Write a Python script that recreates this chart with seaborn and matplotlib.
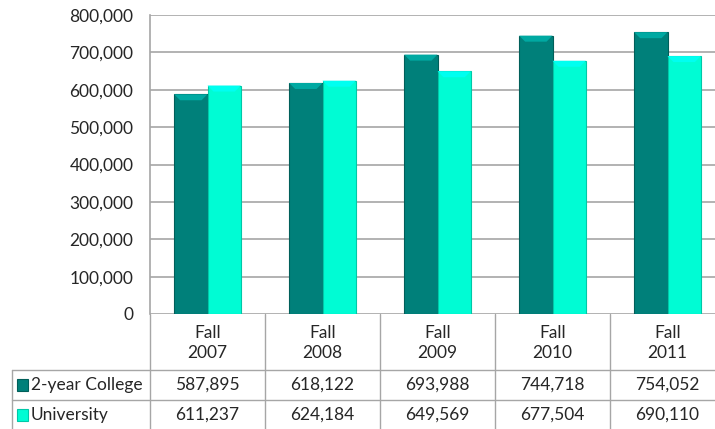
import matplotlib
matplotlib.use("Agg")
import matplotlib.pyplot as plt
import matplotlib.transforms as mtransforms
from matplotlib.lines import Line2D
from matplotlib.patches import Rectangle, Polygon
import seaborn as sns
import pandas as pd

# data
terms = ["Fall\n2007", "Fall\n2008", "Fall\n2009", "Fall\n2010", "Fall\n2011"]
series_names = ["2-year College", "University"]
college = [587895, 618122, 693988, 744718, 754052]
university = [611237, 624184, 649569, 677504, 690110]
yticks = [0, 100000, 200000, 300000, 400000, 500000, 600000, 700000, 800000]

colors = ["#00807A", "#00FCD4"]
edges = ["#005F5A", "#00C8A8"]
bevel = ["#00A9A2", "#00FFF0"]
grid_col = "#A6A6A6"
txt_col = "#262626"

W, H = 715, 429

sns.set_theme(style="white")
plt.rcParams["font.family"] = ["Lato", "DejaVu Sans"]
plt.rcParams["font.size"] = 12.5

df = pd.DataFrame({
    "term": terms * 2,
    "series": [series_names[0]] * len(terms) + [series_names[1]] * len(terms),
    "count": college + university,
})

fig = plt.figure(figsize=(W / 100, H / 100), dpi=100)


def fx(x):
    return x / W


def fy(y):
    return 1 - y / H


# plot area: x 150 -> 725 (cropped on the right), y 15 -> 314
ax = fig.add_axes([fx(150), fy(314), fx(725) - fx(150), fy(15) - fy(314)])

sns.barplot(data=df, x="term", y="count", hue="series", hue_order=series_names,
            palette=colors, width=0.58, saturation=1, ax=ax, legend=False,
            edgecolor="none", zorder=3)

# darker outline and a small top bevel per bar
n = len(terms)
band = 800000 * 6 / 299
for i, p in enumerate(list(ax.patches[:2 * n])):
    s = i // n
    p.set_edgecolor(edges[s])
    p.set_linewidth(0.8)
    x0, w, h = p.get_x(), p.get_width(), p.get_height()
    inset = w * 0.18
    ax.add_patch(Polygon([(x0, h), (x0 + w, h), (x0 + w - inset, h - band),
                          (x0 + inset, h - band)], closed=True,
                         facecolor=bevel[s], edgecolor="none", zorder=4))

ax.set_ylim(0, 800000)
ax.set_xlim(-0.5, len(terms) - 0.5)
ax.set_yticks(yticks)
ax.set_yticklabels([f"{v:,}" for v in yticks], color=txt_col, fontsize=12.5)
ax.yaxis.grid(True, color=grid_col, linewidth=1.2, zorder=0)
ax.tick_params(axis="y", length=0, pad=12)
ax.tick_params(axis="x", length=0, pad=8)
ax.set_xticks(range(len(terms)))
ax.set_xticklabels(terms, color=txt_col, fontsize=12.5, linespacing=1.3)
ax.set_xlabel("")
ax.set_ylabel("")
for side in ["top", "right", "bottom"]:
    ax.spines[side].set_visible(False)
ax.spines["left"].set_color(grid_col)
ax.spines["left"].set_linewidth(1.2)

# data table under the chart
tline = dict(color=grid_col, linewidth=1.0, transform=fig.transFigure)
fig.add_artist(Line2D([fx(150), fx(150)], [fy(314), 0], **tline))
for k in range(1, len(terms)):
    xb = fx(150 + k * 115)
    fig.add_artist(Line2D([xb, xb], [fy(314), 0], **tline))
fig.add_artist(Line2D([fx(12), 1], [fy(370), fy(370)], **tline))
fig.add_artist(Line2D([fx(12), 1], [fy(400), fy(400)], **tline))
fig.add_artist(Line2D([fx(12), fx(12)], [fy(370), 0], **tline))

trans = mtransforms.blended_transform_factory(ax.transData, fig.transFigure)
rows = [college, university]
row_y = [385, 415]
for r, vals in enumerate(rows):
    for i, v in enumerate(vals):
        ax.text(i, fy(row_y[r]), f"{v:,}", transform=trans, ha="center",
                va="center", color=txt_col, fontsize=12.5, clip_on=False)
    fig.add_artist(Rectangle((fx(17), fy(row_y[r] + 6)), fx(11), 12 / H,
                             facecolor=colors[r], edgecolor=edges[r],
                             linewidth=0.8, transform=fig.transFigure))
    fig.text(fx(31), fy(row_y[r]), series_names[r], ha="left", va="center",
             color=txt_col, fontsize=12.5)

fig.savefig("out.png", dpi=100)
